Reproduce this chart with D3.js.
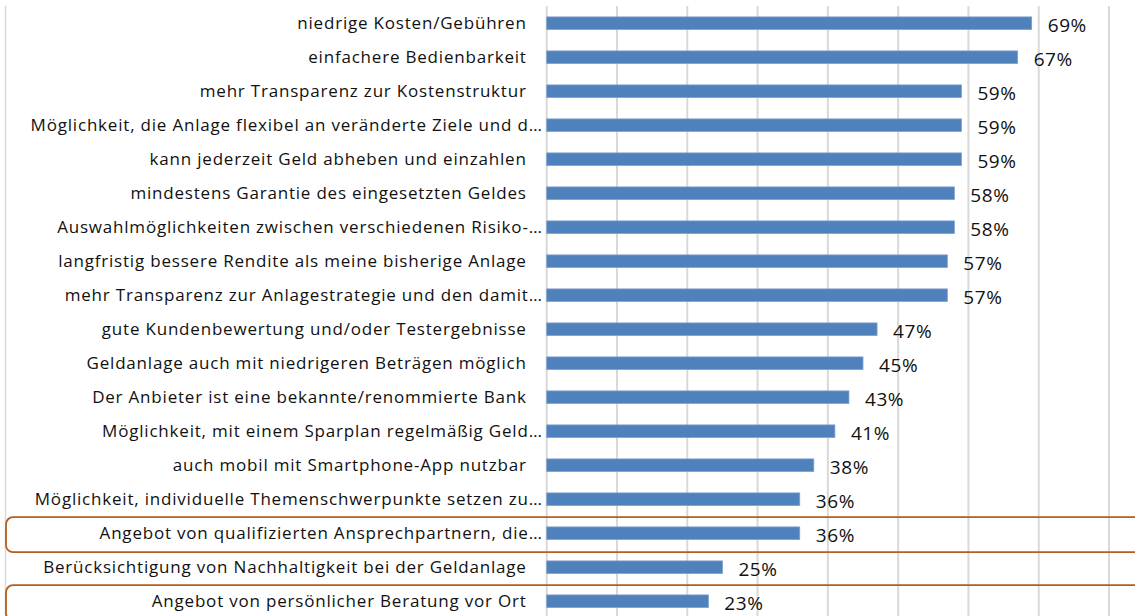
<!DOCTYPE html>
<html lang="de">
<head>
    <meta charset="utf-8">
    <title>Wichtige Kriterien</title>
    <script src="https://d3js.org/d3.v7.min.js"></script>
    <style>
        body { margin: 0; background: #fff; }
        svg { display: block; }
    </style>
</head>
<body>
    <script>
        // categories (top to bottom) and shares
        const categories = [
            "niedrige Kosten/Gebühren",
            "einfachere Bedienbarkeit",
            "mehr Transparenz zur Kostenstruktur",
            "Möglichkeit, die Anlage flexibel an veränderte Ziele und d…",
            "kann jederzeit Geld abheben und einzahlen",
            "mindestens Garantie des eingesetzten Geldes",
            "Auswahlmöglichkeiten zwischen verschiedenen Risiko-…",
            "langfristig bessere Rendite als meine bisherige Anlage",
            "mehr Transparenz zur Anlagestrategie und den damit…",
            "gute Kundenbewertung und/oder Testergebnisse",
            "Geldanlage auch mit niedrigeren Beträgen möglich",
            "Der Anbieter ist eine bekannte/renommierte Bank",
            "Möglichkeit, mit einem Sparplan regelmäßig Geld…",
            "auch mobil mit Smartphone-App nutzbar",
            "Möglichkeit, individuelle Themenschwerpunkte setzen zu…",
            "Angebot von qualifizierten Ansprechpartnern, die…",
            "Berücksichtigung von Nachhaltigkeit bei der Geldanlage",
            "Angebot von persönlicher Beratung vor Ort"
        ];
        const values = [0.69, 0.67, 0.59, 0.59, 0.59, 0.58, 0.58, 0.57, 0.57,
                        0.47, 0.45, 0.43, 0.41, 0.38, 0.36, 0.36, 0.25, 0.23];
        const xTicks = [0, 0.1, 0.2, 0.3, 0.4, 0.5, 0.6, 0.7, 0.8];
        // rows framed in orange
        const highlighted = [
            "Angebot von qualifizierten Ansprechpartnern, die…",
            "Angebot von persönlicher Beratung vor Ort"
        ];

        const data = categories.map((c, i) => ({cat: c, val: values[i]}));

        const width = 1135, height = 616;
        const left = 546.7;

        const svg = d3.select("body").append("svg")
            .attr("width", width)
            .attr("height", height);

        const x = d3.scaleLinear().domain([0, 0.8]).range([left, 1109]);
        const y = d3.scaleBand().domain(categories).range([6.2, 618.2])
            .paddingInner(0.63).paddingOuter(0.315);

        // left frame line
        svg.append("line")
            .attr("x1", 5.5).attr("x2", 5.5)
            .attr("y1", 6).attr("y2", height)
            .attr("stroke", "#d9d9d9").attr("stroke-width", 1.5);

        // vertical gridlines
        svg.append("g")
            .selectAll("line")
            .data(xTicks)
            .join("line")
            .attr("x1", d => x(d)).attr("x2", d => x(d))
            .attr("y1", 6).attr("y2", height)
            .attr("stroke", "#d9d9d9")
            .attr("stroke-width", 2);

        // orange frames around highlighted rows
        svg.append("g")
            .selectAll("rect")
            .data(highlighted)
            .join("rect")
            .attr("x", 6)
            .attr("y", d => y(d) + y.bandwidth() / 2 - 16)
            .attr("width", 1160)
            .attr("height", 35)
            .attr("rx", 7)
            .attr("fill", "none")
            .attr("stroke", "#b85c1e")
            .attr("stroke-width", 1.8);

        // bars
        svg.append("g")
            .selectAll("rect")
            .data(data)
            .join("rect")
            .attr("x", x(0))
            .attr("y", d => y(d.cat))
            .attr("width", d => x(d.val) - x(0))
            .attr("height", y.bandwidth())
            .attr("fill", "#4f81bd")
            .attr("stroke", "#7d9fcf")
            .attr("stroke-width", 0.8);

        // category labels
        svg.append("g")
            .selectAll("text")
            .data(data)
            .join("text")
            .attr("x", d => d.cat.endsWith("…") ? left - 4 : left - 20)
            .attr("y", d => y(d.cat) + y.bandwidth() / 2)
            .attr("dy", "0.35em")
            .attr("text-anchor", "end")
            .style("font-family", "'Open Sans', sans-serif")
            .style("font-size", "17px")
            .style("letter-spacing", "0.8px")
            .style("fill", "#111")
            .text(d => d.cat);

        // value labels
        const pct = d3.format(".0%");
        svg.append("g")
            .selectAll("text")
            .data(data)
            .join("text")
            .attr("x", d => x(d.val) + 16)
            .attr("y", d => y(d.cat) + y.bandwidth() / 2 + 2)
            .attr("dy", "0.35em")
            .style("font-family", "'Open Sans', sans-serif")
            .style("font-size", "19px")
            .style("letter-spacing", "0.6px")
            .style("fill", "#111")
            .text(d => pct(d.val));
    </script>
</body>
</html>
